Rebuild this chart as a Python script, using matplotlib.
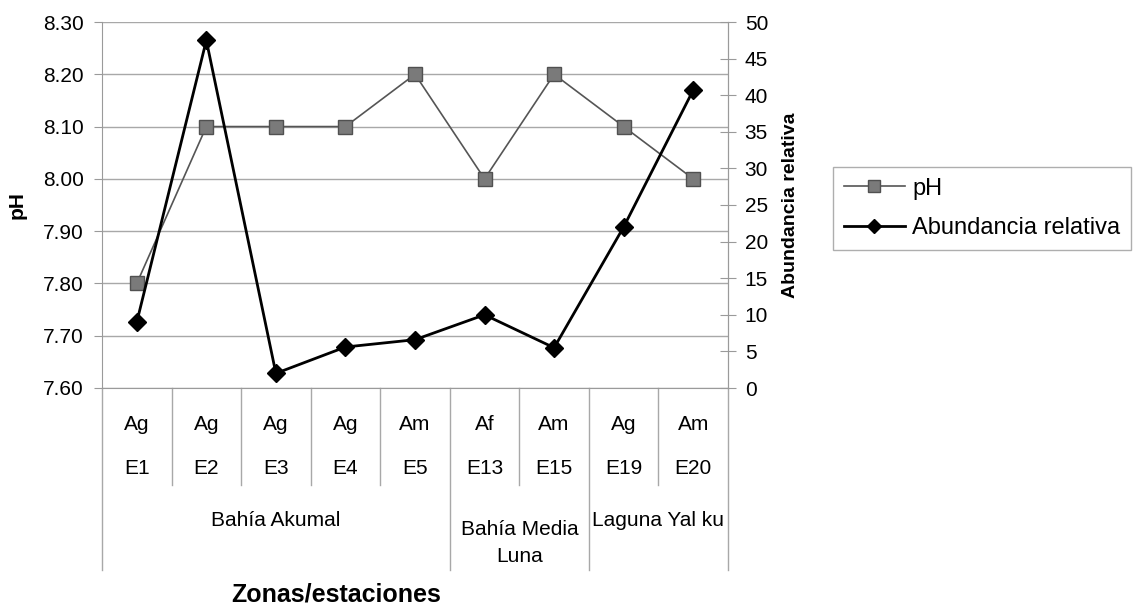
import numpy as np
import matplotlib
matplotlib.use("Agg")
import matplotlib.pyplot as plt
import matplotlib.transforms as mtrans

plt.rcParams['font.family'] = ['Liberation Sans', 'DejaVu Sans']

# data
habitat = ['Ag', 'Ag', 'Ag', 'Ag', 'Am', 'Af', 'Am', 'Ag', 'Am']
estaciones = ['E1', 'E2', 'E3', 'E4', 'E5', 'E13', 'E15', 'E19', 'E20']
zonas = ['Bahía Akumal', 'Bahía Media\nLuna', 'Laguna Yal ku']
zona_n = [5, 2, 2]
ph = [7.80, 8.10, 8.10, 8.10, 8.20, 8.00, 8.20, 8.10, 8.00]
abundancia = [9.0, 47.5, 2.0, 5.6, 6.6, 10.0, 5.5, 22.0, 40.7]

fig = plt.figure(figsize=(11.43, 6.10), dpi=100)
ax = fig.add_axes([102/1143, 1-388/610, 626/1143, 366/610])
ax2 = ax.twinx()

x = np.arange(len(ph)) + 0.5

l1, = ax.plot(x, ph, '-', color='#555555', lw=1.2, marker='s', ms=10,
              mfc='#7a7a7a', mec='#505050', mew=1, label='pH', zorder=3)
l2, = ax2.plot(x, abundancia, '-', color='black', lw=2, marker='D', ms=9,
               mfc='black', mec='black', label='Abundancia relativa', zorder=4)

ax.set_xlim(0, len(ph))
ax.set_ylim(7.60, 8.30)
ax.set_yticks(np.arange(7.60, 8.301, 0.10))
ax.set_yticklabels([f'{v:.2f}' for v in np.arange(7.60, 8.301, 0.10)])
ax.yaxis.grid(True, color='#a8a8a8', lw=1)
ax.set_axisbelow(True)
ax.set_xticks([])
ax2.set_ylim(0, 50)
ax2.set_yticks(np.arange(0, 51, 5))

for a in (ax, ax2):
    for s in a.spines.values():
        s.set_color('#9a9a9a')
    a.spines['top'].set_visible(False)
ax2.spines['left'].set_visible(False)
ax2.spines['bottom'].set_visible(False)

ax.tick_params(axis='y', direction='out', length=6, color='#9a9a9a',
               labelsize=15, pad=7)
ax2.tick_params(axis='y', direction='inout', length=12, color='#9a9a9a',
                labelsize=15, pad=6)

ax.set_ylabel('pH', fontsize=15, fontweight='bold', labelpad=12)
ax2.set_ylabel('Abundancia relativa', fontsize=14, fontweight='bold', labelpad=10)

# multi-level category axis
trans = mtrans.blended_transform_factory(ax.transData, ax.transAxes)
for i in range(len(ph)):
    ax.text(x[i], -0.101, habitat[i], transform=trans, ha='center', va='center', fontsize=15)
    ax.text(x[i], -0.219, estaciones[i], transform=trans, ha='center', va='center', fontsize=15)
bounds = np.concatenate([[0], np.cumsum(zona_n)])
for i in range(1, len(ph)):
    if i not in bounds:
        ax.plot([i, i], [0, -0.265], transform=trans, color='#a8a8a8', lw=1, clip_on=False)
for b in bounds:
    ax.plot([b, b], [0, -0.497], transform=trans, color='#a8a8a8', lw=1, clip_on=False)
for j, z in enumerate(zonas):
    cx = (bounds[j] + bounds[j+1]) / 2
    ax.text(cx, -0.361, z, transform=trans, ha='center', va='top' if '\n' in z else 'center',
            fontsize=15, linespacing=1.55)

fig.text(336/1143, 1-594/610, 'Zonas/estaciones', ha='center', va='center',
         fontsize=18, fontweight='bold')

leg = fig.legend([l1, l2], ['pH', 'Abundancia relativa'], loc='upper left',
                 bbox_to_anchor=(833/1143, 1-167/610), borderaxespad=0,
                 frameon=True, fancybox=False, edgecolor='#9a9a9a', handlelength=2.6,
                 handletextpad=0.3, borderpad=0.45, labelspacing=0.75,
                 markerscale=0.8, prop={'size': 17})
leg.get_frame().set_linewidth(1)

fig.savefig('out.png', dpi=100)
